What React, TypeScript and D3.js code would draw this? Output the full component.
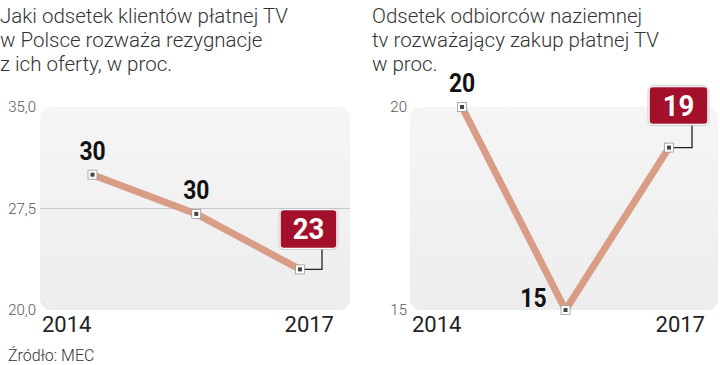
import React from "react";
import * as d3 from "d3";

const leftTitle = ["Jaki odsetek klientów płatnej TV", "w Polsce rozważa rezygnacje", "z ich oferty, w proc."];
const rightTitle = ["Odsetek odbiorców naziemnej", "tv rozważający zakup płatnej TV", "w proc."];
const leftValues = [30, 27.1, 23];
const leftLabels = ["30", "30", "23"];
const leftTicks = [20, 27.5, 35];
const rightValues = [20, 15, 19];
const rightLabels = ["20", "15", "19"];
const rightTicks = [15, 20];
const yearLabels = ["2014", "2017"];
const source = "Źródło: MEC";

const LINE = "#d99c84";
const RED = "#a3102c";
const TITLE_FONT = "Roboto, 'Liberation Sans', sans-serif";
const NUM_FONT = "Roboto, 'Liberation Sans', sans-serif";

type PanelProps = {
  values: number[];
  labels: string[];
  ticks: number[];
  domain: [number, number];
  bg: [number, number, number, number];
  xr: [number, number];
  tickX: number;
  tickFmt: (v: number) => string;
  grid: number[];
  labelPos: ("above" | "left")[];
  box: { w: number; h: number; dx: number; dy: number; elbowX: number };
  yearX: [number, number];
};

function Panel(p: PanelProps) {
  const [x0, y0, x1, y1] = p.bg;
  const y = d3.scaleLinear().domain(p.domain).range([y1, y0]);
  const x = d3.scalePoint<number>().domain(p.values.map((_, i) => i)).range(p.xr);
  const line = d3.line<number>().x((_, i) => x(i)!).y((d) => y(d));
  const n = p.values.length;
  const lastX = x(n - 1)!;
  const lastY = y(p.values[n - 1]);
  const bx = lastX + p.box.dx;
  const by = lastY + p.box.dy;
  return (
    <g>
      <rect x={x0} y={y0} width={x1 - x0} height={y1 - y0} rx={11} fill="url(#bgGrad)" />
      {p.grid.map((g) => (
        <line key={g} x1={x0} x2={x1} y1={y(g)} y2={y(g)} stroke="#c8c8c8" strokeWidth={1} />
      ))}
      {p.ticks.map((t) => (
        <text key={t} x={p.tickX} y={y(t) + 5} textAnchor="end" fontFamily={TITLE_FONT} fontWeight={300} fontSize={15} fill="#555">
          {p.tickFmt(t)}
        </text>
      ))}
      <text x={p.yearX[0]} y={332} fontFamily={TITLE_FONT} fontSize={22} fill="#222">{yearLabels[0]}</text>
      <text x={p.yearX[1]} y={332} textAnchor="end" fontFamily={TITLE_FONT} fontSize={22} fill="#222">{yearLabels[1]}</text>
      <path d={line(p.values) || ""} fill="none" stroke={LINE} strokeWidth={7} strokeLinejoin="round" />
      <polyline
        points={`${lastX},${lastY} ${lastX + p.box.elbowX},${lastY} ${lastX + p.box.elbowX},${by + p.box.h}`}
        fill="none"
        stroke="#222"
        strokeWidth={1.3}
      />
      {p.values.map((v, i) => (
        <g key={i}>
          <rect x={x(i)! - 4.5} y={y(v) - 4.5} width={9} height={9} fill="#fff" stroke="#999" strokeWidth={0.8} />
          <rect x={x(i)! - 2} y={y(v) - 2} width={4} height={4} fill="#444" />
        </g>
      ))}
      {p.values.slice(0, n - 1).map((v, i) => {
        const above = p.labelPos[i] === "above";
        const tx = above ? x(i)! : x(i)! - 19;
        const ty = above ? y(v) - 15 : y(v) - 3;
        return (
          <g key={i} transform={`translate(${tx},${ty}) scale(0.88,1)`}>
            <text x={0} y={0} textAnchor={above ? "middle" : "end"} fontFamily={NUM_FONT} fontWeight="bold" fontSize={26} fill="#111">
              {p.labels[i]}
            </text>
          </g>
        );
      })}
      <rect x={bx} y={by} width={p.box.w} height={p.box.h} rx={4} fill={RED} stroke="#fff" strokeWidth={1.5} />
      <rect x={bx - 1} y={by - 1} width={p.box.w + 2} height={p.box.h + 2} rx={5} fill="none" stroke="#bbb" strokeWidth={0.7} />
      <g transform={`translate(${bx + p.box.w / 2},${by + p.box.h / 2 + 10.5}) scale(0.92,1)`}>
        <text x={0} y={0} textAnchor="middle" fontFamily={NUM_FONT} fontWeight="bold" fontSize={30} fill="#fff">
          {p.labels[n - 1]}
        </text>
      </g>
    </g>
  );
}

export default function App() {
  const fmtComma = (v: number) => d3.format(".1f")(v).replace(".", ",");
  return (
    <svg width={720} height={365} style={{ position: "absolute", left: 0, top: 0, background: "#fff" }}>
      <defs>
        <linearGradient id="bgGrad" x1="0" y1="0" x2="0" y2="1">
          <stop offset="0" stopColor="#f5f5f6" />
          <stop offset="1" stopColor="#ededee" />
        </linearGradient>
      </defs>
      {leftTitle.map((t, i) => (
        <text key={i} x={0} y={23 + i * 24} fontFamily={TITLE_FONT} fontWeight={300} fontSize={20.5} fill="#333">{t}</text>
      ))}
      {rightTitle.map((t, i) => (
        <text key={i} x={372} y={23 + i * 24} fontFamily={TITLE_FONT} fontWeight={300} fontSize={20.5} fill="#333">{t}</text>
      ))}
      <Panel
        values={leftValues}
        labels={leftLabels}
        ticks={leftTicks}
        domain={[20, 35]}
        bg={[40, 107, 350, 310]}
        xr={[92.5, 300]}
        tickX={36}
        tickFmt={fmtComma}
        grid={[27.5]}
        labelPos={["above", "above"]}
        box={{ w: 57, h: 39, dx: -20, dy: -60, elbowX: 22 }}
        yearX={[42, 334]}
      />
      <Panel
        values={rightValues}
        labels={rightLabels}
        ticks={rightTicks}
        domain={[15, 20]}
        bg={[410, 107, 718, 310]}
        xr={[462, 669]}
        tickX={407}
        tickFmt={(v) => String(v)}
        grid={[]}
        labelPos={["above", "left"]}
        box={{ w: 59, h: 38, dx: -20, dy: -61, elbowX: 23 }}
        yearX={[412, 705]}
      />
      <text x={8} y={361} fontFamily={TITLE_FONT} fontWeight={300} fontSize={16} fill="#333">{source}</text>
    </svg>
  );
}
